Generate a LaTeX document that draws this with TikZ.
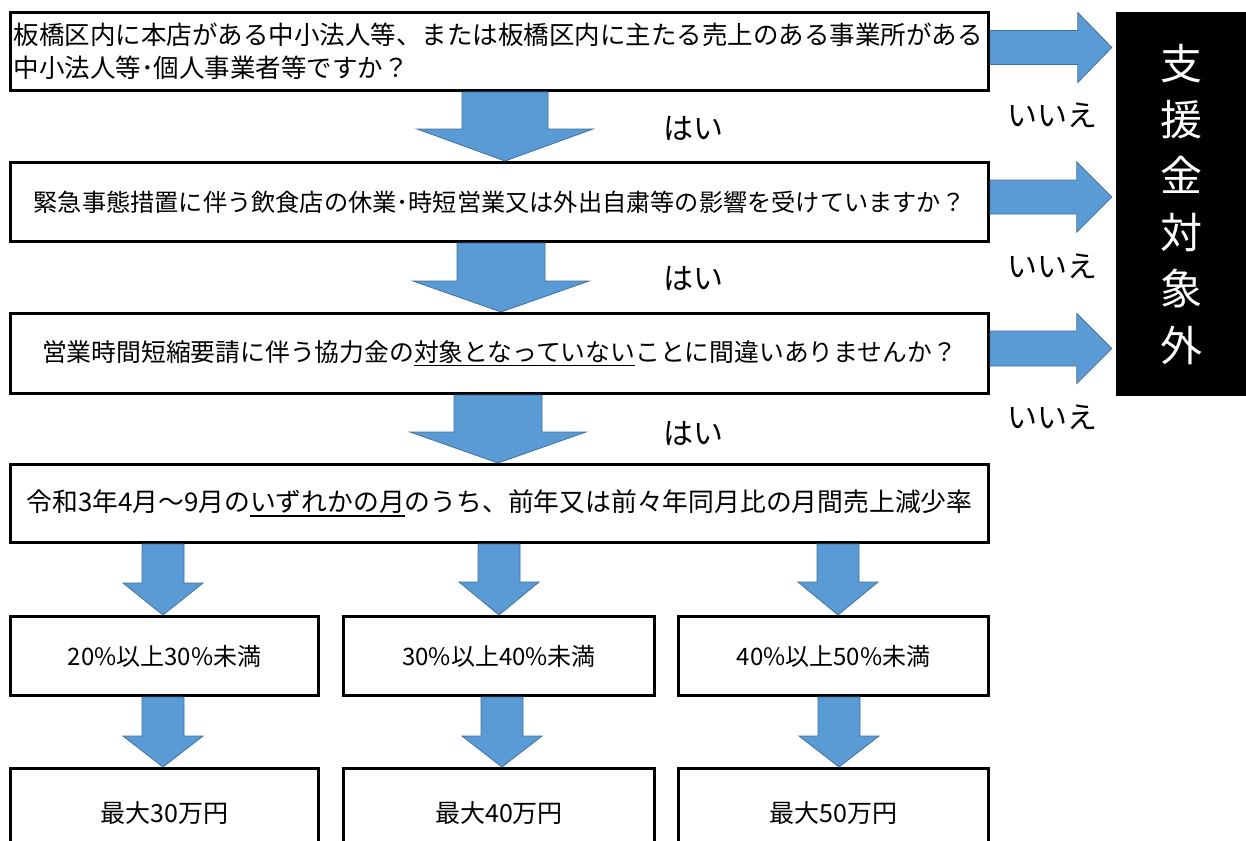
\documentclass[tikz,border=0pt]{standalone}
\usepackage{fontspec}
\setmainfont{Noto Sans CJK JP}
\usetikzlibrary{calc}
\definecolor{arrowfill}{RGB}{91,155,213}
\definecolor{arrowline}{RGB}{65,113,156}
\newcommand\myul[1]{\setbox0\hbox{#1}\rlap{\rule[-5pt]{\wd0}{1.5pt}}\box0}
% down block arrow: from node, to node, x centre, shaft half width, head half width, head length
\newcommand\darrow[6]{%
  \path[barrow] let \p1=(#1.south), \p2=(#2.north) in
  (#3-#4,\y1) -- (#3+#4,\y1) -- (#3+#4,\y2+#6pt) -- (#3+#5,\y2+#6pt) -- (#3,\y2)
  -- (#3-#5,\y2+#6pt) -- (#3-#4,\y2+#6pt) -- cycle;}
% right block arrow: from node, to node, y centre, shaft half width, head half width, head length
\newcommand\rarrow[6]{%
  \path[barrow] let \p1=(#1.east), \p2=(#2.west) in
  (\x1,#3-#4) -- (\x2-4pt-#6pt,#3-#4) -- (\x2-4pt-#6pt,#3-#5) -- (\x2-4pt,#3)
  -- (\x2-4pt-#6pt,#3+#5) -- (\x2-4pt-#6pt,#3+#4) -- (\x1,#3+#4) -- cycle;}
\begin{document}
\begin{tikzpicture}[x=1pt,y=-1pt,
  qbox/.style={draw, line width=3pt, inner sep=0pt, align=center, font=\fontsize{24.5}{30}\selectfont},
  barrow/.style={fill=arrowfill, draw=arrowline, line width=0.8pt, line join=miter},
  lbl/.style={inner sep=0pt, font=\fontsize{30}{36}\selectfont}]
\useasboundingbox (0,0) rectangle (1246,840);
\fill[white] (0,0) rectangle (1246,840);
\clip (0,0) rectangle (1246,840);

\node[qbox, align=left, text width=972pt, inner xsep=3pt, minimum height=78pt,
      font=\fontsize{25.5}{33}\selectfont] (b1) at (499.5,51.5)
  {板橋区内に本店がある中小法人等、または板橋区内に主たる売上のある事業所がある\\中小法人等･個人事業者等ですか？};
\node[qbox, minimum width=978pt, minimum height=79pt, font=\fontsize{24.2}{30}\selectfont] (b2) at (499.5,202)
  {緊急事態措置に伴う飲食店の休業･時短営業又は外出自粛等の影響を受けていますか？};
\node[qbox, minimum width=978pt, minimum height=80pt, font=\fontsize{24.8}{30}\selectfont] (b3) at (499.5,353.5)
  {営業時間短縮要請に伴う協力金の\myul{対象となっていない}ことに間違いありませんか？};
\node[qbox, minimum width=978pt, minimum height=78pt, font=\fontsize{25.8}{30}\selectfont] (b4) at (499.5,503.5)
  {令和3年4月～9月の\myul{いずれかの月}のうち、前年又は前々年同月比の月間売上減少率};

\node[qbox, minimum width=308pt, minimum height=79pt, font=\fontsize{24}{30}\selectfont] (c1) at (164.5,656) {20\%以上30\%未満};
\node[qbox, minimum width=311pt, minimum height=79pt, font=\fontsize{24}{30}\selectfont] (c2) at (499,656) {30\%以上40\%未満};
\node[qbox, minimum width=310pt, minimum height=79pt, font=\fontsize{24}{30}\selectfont] (c3) at (833.5,656) {40\%以上50\%未満};

\node[qbox, minimum width=308pt, minimum height=89pt, font=\fontsize{25}{30}\selectfont] (d1) at (164.5,813) {最大30万円};
\node[qbox, minimum width=311pt, minimum height=89pt, font=\fontsize{25}{30}\selectfont] (d2) at (499,813) {最大40万円};
\node[qbox, minimum width=310pt, minimum height=89pt, font=\fontsize{25}{30}\selectfont] (d3) at (833.5,813) {最大50万円};

\node[fill=black, minimum width=130pt, minimum height=384pt, inner sep=0pt, text=white, align=center,
      font=\fontsize{42}{56.4}\selectfont] (nt) at (1181,204) {支\\援\\金\\対\\象\\外};

\node[lbl] (n1) at (1052,115) {いいえ};
\node[lbl] (n2) at (1052,266) {いいえ};
\node[lbl] (n3) at (1052,417) {いいえ};
\node[lbl] (y1) at (693,128) {はい};
\node[lbl] (y2) at (693,278) {はい};
\node[lbl] (y3) at (693,433) {はい};

\rarrow{b1}{nt}{47.5}{17}{35}{34}
\rarrow{b2}{nt}{197}{17}{35}{35}
\rarrow{b3}{nt}{348.5}{17.5}{35}{35}

\darrow{b1}{b2}{505}{43}{88}{32}
\darrow{b2}{b3}{501}{44}{88}{31}
\darrow{b3}{b4}{498}{44}{88}{31}

\darrow{b4}{c1}{163}{21}{40}{32}
\darrow{b4}{c2}{499}{21}{40}{33}
\darrow{b4}{c3}{838}{21}{40}{33}

\darrow{c1}{d1}{163}{21}{40}{31}
\darrow{c2}{d2}{502}{21}{40}{31}
\darrow{c3}{d3}{839}{21}{40}{31}
\end{tikzpicture}
\end{document}
